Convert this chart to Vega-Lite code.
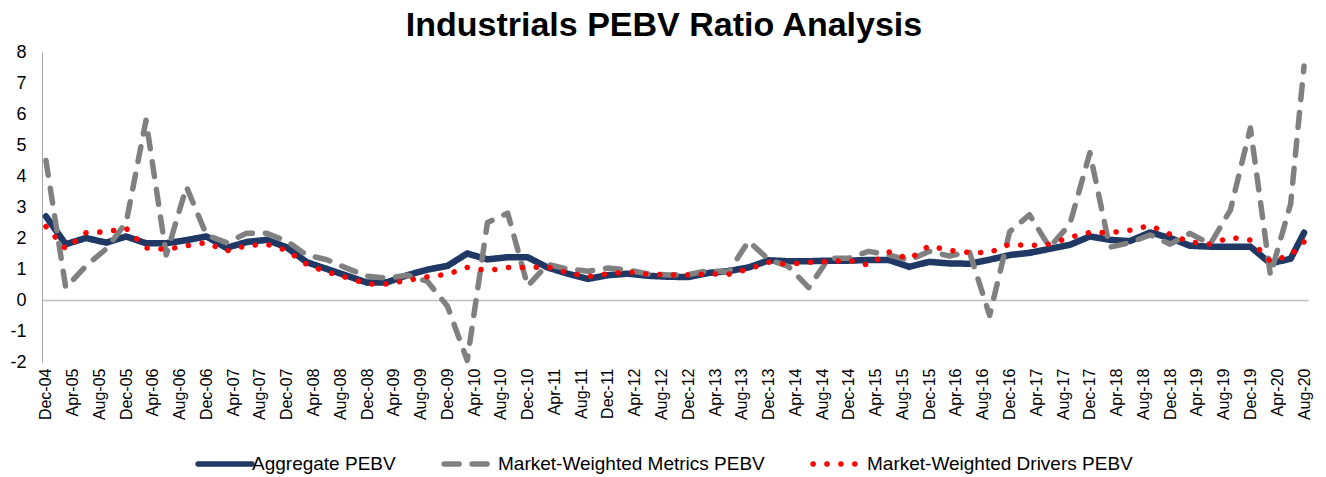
{
  "$schema": "https://vega.github.io/schema/vega-lite/v6.json",
  "width": 1266,
  "height": 310,
  "autosize": {"type": "none"},
  "padding": {"left": 42, "top": 52, "right": 18, "bottom": 115},
  "background": "white",
  "title": {"text": "Industrials PEBV Ratio Analysis", "font": "Liberation Sans", "fontSize": 34, "fontWeight": "bold", "color": "#000000", "anchor": "middle", "offset": 0, "dx": -11},
  "config": {
    "view": {"stroke": null},
    "font": "Liberation Sans",
    "axisX": {"title": null, "format": "%b-%y", "labelAngle": -90, "labelFont": "Liberation Sans", "labelFontSize": 16, "labelColor": "#000000", "labelPadding": 6, "ticks": false, "domain": false, "grid": false, "labelOverlap": false, "labelBound": false, "labelFlush": false, "labelSeparation": 0},
    "axisY": {"title": null, "ticks": false, "domain": true, "domainColor": "#a6a6a6", "domainWidth": 1, "labelFont": "Liberation Sans", "labelFontSize": 18, "labelColor": "#000000", "labelPadding": 16, "labelOverlap": false, "labelFlush": false}
  },
  "data": {"values": [
    {"date":"2004/12/01","A":2.7,"M":4.5,"D":2.37},
    {"date":"2005/03/01","A":1.8,"M":0.4,"D":1.65},
    {"date":"2005/06/01","A":2.0,"M":1.1,"D":2.17},
    {"date":"2005/09/01","A":1.85,"M":1.65,"D":2.2},
    {"date":"2005/12/01","A":2.05,"M":2.5,"D":2.31},
    {"date":"2006/03/01","A":1.83,"M":5.8,"D":1.68},
    {"date":"2006/06/01","A":1.83,"M":1.45,"D":1.63},
    {"date":"2006/09/01","A":1.93,"M":3.65,"D":1.75},
    {"date":"2006/12/01","A":2.05,"M":2.1,"D":1.85},
    {"date":"2007/03/01","A":1.68,"M":1.85,"D":1.58},
    {"date":"2007/06/01","A":1.87,"M":2.15,"D":1.75},
    {"date":"2007/09/01","A":1.94,"M":2.15,"D":1.8},
    {"date":"2007/12/01","A":1.7,"M":1.9,"D":1.6},
    {"date":"2008/03/01","A":1.22,"M":1.45,"D":1.15},
    {"date":"2008/06/01","A":1.0,"M":1.3,"D":0.9},
    {"date":"2008/09/01","A":0.78,"M":1.02,"D":0.72},
    {"date":"2008/12/01","A":0.56,"M":0.77,"D":0.52},
    {"date":"2009/03/01","A":0.57,"M":0.7,"D":0.52},
    {"date":"2009/06/01","A":0.8,"M":0.8,"D":0.63},
    {"date":"2009/09/01","A":0.98,"M":0.6,"D":0.75},
    {"date":"2009/12/01","A":1.1,"M":-0.2,"D":0.83},
    {"date":"2010/03/01","A":1.5,"M":-1.95,"D":1.05},
    {"date":"2010/06/01","A":1.31,"M":2.5,"D":0.95},
    {"date":"2010/09/01","A":1.38,"M":2.8,"D":1.05},
    {"date":"2010/12/01","A":1.38,"M":0.45,"D":1.05},
    {"date":"2011/03/01","A":1.05,"M":1.15,"D":1.07},
    {"date":"2011/06/01","A":0.85,"M":1.0,"D":0.88},
    {"date":"2011/09/01","A":0.68,"M":0.93,"D":0.75},
    {"date":"2011/12/01","A":0.8,"M":1.03,"D":0.85},
    {"date":"2012/03/01","A":0.85,"M":0.97,"D":0.91},
    {"date":"2012/06/01","A":0.78,"M":0.84,"D":0.83},
    {"date":"2012/09/01","A":0.75,"M":0.81,"D":0.81},
    {"date":"2012/12/01","A":0.74,"M":0.82,"D":0.81},
    {"date":"2013/03/01","A":0.87,"M":0.95,"D":0.84},
    {"date":"2013/06/01","A":0.93,"M":0.9,"D":0.83},
    {"date":"2013/09/01","A":1.05,"M":1.9,"D":1.0},
    {"date":"2013/12/01","A":1.28,"M":1.3,"D":1.22},
    {"date":"2014/03/01","A":1.25,"M":1.08,"D":1.15},
    {"date":"2014/06/01","A":1.25,"M":0.4,"D":1.22},
    {"date":"2014/09/01","A":1.27,"M":1.35,"D":1.24},
    {"date":"2014/12/01","A":1.27,"M":1.35,"D":1.28},
    {"date":"2015/03/01","A":1.29,"M":1.57,"D":1.12},
    {"date":"2015/06/01","A":1.29,"M":1.45,"D":1.55},
    {"date":"2015/09/01","A":1.07,"M":1.28,"D":1.32},
    {"date":"2015/12/01","A":1.23,"M":1.57,"D":1.75},
    {"date":"2016/03/01","A":1.18,"M":1.42,"D":1.6},
    {"date":"2016/06/01","A":1.17,"M":1.55,"D":1.53},
    {"date":"2016/09/01","A":1.3,"M":-0.5,"D":1.53},
    {"date":"2016/12/01","A":1.45,"M":2.2,"D":1.8},
    {"date":"2017/03/01","A":1.52,"M":2.75,"D":1.75},
    {"date":"2017/06/01","A":1.65,"M":1.7,"D":1.8},
    {"date":"2017/09/01","A":1.78,"M":2.45,"D":2.02},
    {"date":"2017/12/01","A":2.05,"M":4.75,"D":2.18},
    {"date":"2018/03/01","A":1.94,"M":1.7,"D":2.17},
    {"date":"2018/06/01","A":1.9,"M":1.85,"D":2.25},
    {"date":"2018/09/01","A":2.18,"M":2.1,"D":2.4},
    {"date":"2018/12/01","A":2.0,"M":1.8,"D":2.12},
    {"date":"2019/03/01","A":1.75,"M":2.15,"D":1.87},
    {"date":"2019/06/01","A":1.72,"M":1.8,"D":1.8},
    {"date":"2019/09/01","A":1.72,"M":2.9,"D":2.02},
    {"date":"2019/12/01","A":1.72,"M":5.55,"D":1.93},
    {"date":"2020/03/01","A":1.18,"M":0.8,"D":1.25},
    {"date":"2020/06/01","A":1.33,"M":3.1,"D":1.45},
    {"date":"2020/08/01","A":2.17,"M":7.55,"D":1.88}
  ]},
  "encoding": {
    "x": {"field": "date", "type": "temporal",
      "scale": {"domain": [{"year": 2004, "month": 11, "date": 13}, {"year": 2020, "month": 8, "date": 19}]},
      "axis": {
        "values": [
          {"year":2004,"month":12,"date":1},
          {"year":2005,"month":4,"date":1},{"year":2005,"month":8,"date":1},{"year":2005,"month":12,"date":1},
          {"year":2006,"month":4,"date":1},{"year":2006,"month":8,"date":1},{"year":2006,"month":12,"date":1},
          {"year":2007,"month":4,"date":1},{"year":2007,"month":8,"date":1},{"year":2007,"month":12,"date":1},
          {"year":2008,"month":4,"date":1},{"year":2008,"month":8,"date":1},{"year":2008,"month":12,"date":1},
          {"year":2009,"month":4,"date":1},{"year":2009,"month":8,"date":1},{"year":2009,"month":12,"date":1},
          {"year":2010,"month":4,"date":1},{"year":2010,"month":8,"date":1},{"year":2010,"month":12,"date":1},
          {"year":2011,"month":4,"date":1},{"year":2011,"month":8,"date":1},{"year":2011,"month":12,"date":1},
          {"year":2012,"month":4,"date":1},{"year":2012,"month":8,"date":1},{"year":2012,"month":12,"date":1},
          {"year":2013,"month":4,"date":1},{"year":2013,"month":8,"date":1},{"year":2013,"month":12,"date":1},
          {"year":2014,"month":4,"date":1},{"year":2014,"month":8,"date":1},{"year":2014,"month":12,"date":1},
          {"year":2015,"month":4,"date":1},{"year":2015,"month":8,"date":1},{"year":2015,"month":12,"date":1},
          {"year":2016,"month":4,"date":1},{"year":2016,"month":8,"date":1},{"year":2016,"month":12,"date":1},
          {"year":2017,"month":4,"date":1},{"year":2017,"month":8,"date":1},{"year":2017,"month":12,"date":1},
          {"year":2018,"month":4,"date":1},{"year":2018,"month":8,"date":1},{"year":2018,"month":12,"date":1},
          {"year":2019,"month":4,"date":1},{"year":2019,"month":8,"date":1},{"year":2019,"month":12,"date":1},
          {"year":2020,"month":4,"date":1},{"year":2020,"month":8,"date":1}
        ]}}
  },
  "layer": [
    {
      "mark": {"type": "line", "strokeWidth": 6.5, "strokeCap": "round", "strokeJoin": "round"},
      "encoding": {
        "y": {"field": "A", "type": "quantitative", "scale": {"domain": [-2, 8], "nice": false},
          "axis": {"values": [-2, -1, 0, 1, 2, 3, 4, 5, 6, 7, 8], "labelExpr": "datum.value + ''",
            "grid": true, "gridColor": "#bfbfbf", "gridWidth": 1.5, "gridOpacity": {"condition": {"test": "datum.value === 0", "value": 1}, "value": 0}}},
        "color": {"datum": "Aggregate PEBV", "type": "nominal",
          "scale": {"domain": ["Aggregate PEBV", "Market-Weighted Metrics PEBV", "Market-Weighted Drivers PEBV"], "range": ["#1f3864", "#808080", "#ff0000"]},
          "legend": {"title": null, "orient": "none", "legendX": 153, "legendY": 382, "direction": "horizontal", "symbolType": "stroke", "symbolSize": 2900, "symbolStrokeWidth": 5.5, "labelFont": "Liberation Sans", "labelFontSize": 19, "labelLimit": 0, "labelColor": "#000000", "labelOffset": -3, "columnPadding": 37, "encode": {"symbols": {"update": {"strokeCap": {"value": "round"}}}}}},
        "strokeDash": {"datum": "Aggregate PEBV", "type": "nominal",
          "scale": {"domain": ["Aggregate PEBV", "Market-Weighted Metrics PEBV", "Market-Weighted Drivers PEBV"], "range": [[1, 0], [15, 13], [0.1, 13.8]]},
          "legend": {"title": null, "orient": "none", "legendX": 153, "legendY": 382, "direction": "horizontal", "symbolType": "stroke", "symbolSize": 2900, "symbolStrokeWidth": 5.5, "labelFont": "Liberation Sans", "labelFontSize": 19, "labelLimit": 0, "labelColor": "#000000", "labelOffset": -3, "columnPadding": 37, "encode": {"symbols": {"update": {"strokeCap": {"value": "round"}}}}}}
      }
    },
    {
      "mark": {"type": "line", "strokeWidth": 5.5, "strokeCap": "round", "strokeJoin": "round"},
      "encoding": {
        "y": {"field": "M", "type": "quantitative", "scale": {"domain": [-2, 8], "nice": false},
          "axis": {"values": [-2, -1, 0, 1, 2, 3, 4, 5, 6, 7, 8], "labelExpr": "datum.value + ''",
            "grid": true, "gridColor": "#bfbfbf", "gridWidth": 1.5, "gridOpacity": {"condition": {"test": "datum.value === 0", "value": 1}, "value": 0}}},
        "color": {"datum": "Market-Weighted Metrics PEBV", "type": "nominal"},
        "strokeDash": {"datum": "Market-Weighted Metrics PEBV", "type": "nominal"}
      }
    },
    {
      "mark": {"type": "line", "strokeWidth": 5.5, "strokeCap": "round", "strokeJoin": "round"},
      "encoding": {
        "y": {"field": "D", "type": "quantitative", "scale": {"domain": [-2, 8], "nice": false},
          "axis": {"values": [-2, -1, 0, 1, 2, 3, 4, 5, 6, 7, 8], "labelExpr": "datum.value + ''",
            "grid": true, "gridColor": "#bfbfbf", "gridWidth": 1.5, "gridOpacity": {"condition": {"test": "datum.value === 0", "value": 1}, "value": 0}}},
        "color": {"datum": "Market-Weighted Drivers PEBV", "type": "nominal"},
        "strokeDash": {"datum": "Market-Weighted Drivers PEBV", "type": "nominal"}
      }
    }
  ]
}
